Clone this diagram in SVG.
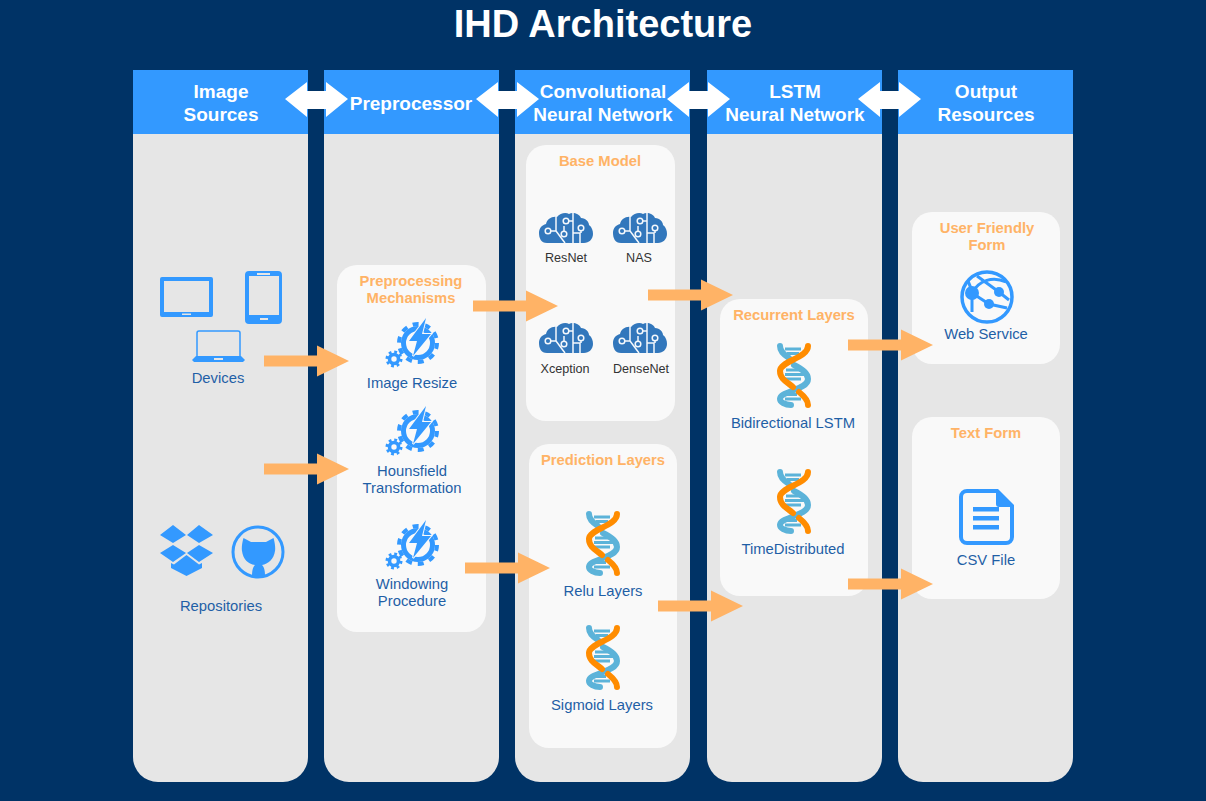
<svg xmlns="http://www.w3.org/2000/svg" xmlns:xlink="http://www.w3.org/1999/xlink" width="1206" height="801" viewBox="0 0 1206 801">
<style>
text{font-family:"Liberation Sans",Arial,sans-serif;text-anchor:middle}
.title{font-size:38px;font-weight:700;fill:#fff}
.hd{font-size:19px;font-weight:700;fill:#fff}
.ct{font-size:14.800px;font-weight:700;fill:#ffb366}
.lb{font-size:14.800px;fill:#1f5fa6}
.sm{font-size:12.600px;fill:#333}
.body{fill:#e6e6e6}
.head{fill:#3399ff}
.card{fill:#f9f9f9}
.ic{fill:#3399ff}
.or{fill:none;stroke:#ff8c00;stroke-width:6;stroke-linecap:round}
.bl{fill:none;stroke:#5cb3d9;stroke-width:6;stroke-linecap:round}
.rg{stroke:#5cb3d9;stroke-width:3}
.cir{fill:none;stroke:#f4f8fc;stroke-width:1.500}
</style>
<defs>
<symbol id="gear" overflow="visible">
<circle cx="0" cy="0" r="14.500" fill="none" stroke="#3399ff" stroke-width="5"/>
<circle cx="0" cy="0" r="19" fill="none" stroke="#3399ff" stroke-width="4" stroke-dasharray="6 5.940"/>
<path d="M8-25-9-2H-1L-5 13 13-9H4Z" fill="#3399ff" stroke="#f9f9f9" stroke-width="2" paint-order="stroke"/>
<g transform="translate(-24 16)">
<circle r="4.500" fill="none" stroke="#3399ff" stroke-width="3.600"/>
<circle r="7" fill="none" stroke="#3399ff" stroke-width="3" stroke-dasharray="2.750 2.750"/>
</g>
</symbol>
<symbol id="brain" overflow="visible">
<path d="M8 31C2 31 0 26 0 21 0 16 3 13 7 12 8 7 13 4 18 5 21 1 27 0 30 2 33 0 40 1 42 6 47 6 50 10 50 13 53 15 54 19 54 22 54 27 50 31 45 31Z" fill="#3277bc"/>
<g class="cir">
<path d="M17 3V19L26 31M12 19H17M25 14V19M29 9H34M34 1V31M34 21H41V31M42 19V21"/>
<circle cx="9" cy="19" r="2.800"/><circle cx="25" cy="22" r="2.800"/><circle cx="27" cy="9" r="2.800"/><circle cx="42" cy="16" r="2.800"/>
</g>
</symbol>
<symbol id="dna" overflow="visible">
<path class="rg" d="M8 6H24M10 10.500H22M9 27H28M8 31.500H27M6 36H24M8 56H24M10 51.500H20"/>
<path class="bl" d="M3 3C3 8 6 11 12 15M17 22C25 26 31 30 31 36 31 47 3 48 3 56 3 59 8 62 14 62"/>
<path class="or" d="M31 3C31 15 3 18 3 28 3 36 10 39 16 44M22 49C27 53 31 57 31 62"/>
</symbol>
<symbol id="bar" overflow="visible"><path d="M0-5.500H53V-15.500L85 0 53 15.500V5.500H0Z" fill="#ffb366"/></symbol>
<symbol id="dbl" overflow="visible"><path d="M0 0 22-17V-8H41V-17L63 0 41 18V10H22V18Z" fill="#fff"/></symbol>
</defs>
<rect width="1206" height="801" fill="#003366"/>
<text class="title" x="603" y="37">IHD Architecture</text>

<g id="lane-image-sources">
<path class="body" d="M133 70H308V757a25 25 0 0 1-25 25H158a25 25 0 0 1-25-25Z"/>
<rect class="head" x="133" y="70" width="175" height="64"/>
<text class="hd" x="221" y="98">Image</text><text class="hd" x="221" y="121">Sources</text>
</g>
<g id="lane-preprocessor">
<path class="body" d="M324 70H499V757a25 25 0 0 1-25 25H349a25 25 0 0 1-25-25Z"/>
<rect class="head" x="324" y="70" width="175" height="64"/>
<text class="hd" x="411" y="110">Preprocessor</text>
</g>
<g id="lane-cnn">
<path class="body" d="M515 70H690V757a25 25 0 0 1-25 25H540a25 25 0 0 1-25-25Z"/>
<rect class="head" x="515" y="70" width="175" height="64"/>
<text class="hd" x="603" y="98">Convolutional</text><text class="hd" x="603" y="121">Neural Network</text>
</g>
<g id="lane-lstm">
<path class="body" d="M707 70H882V757a25 25 0 0 1-25 25H732a25 25 0 0 1-25-25Z"/>
<rect class="head" x="707" y="70" width="175" height="64"/>
<text class="hd" x="795" y="98">LSTM</text><text class="hd" x="795" y="121">Neural Network</text>
</g>
<g id="lane-output">
<path class="body" d="M898 70H1073V757a25 25 0 0 1-25 25H923a25 25 0 0 1-25-25Z"/>
<rect class="head" x="898" y="70" width="175" height="64"/>
<text class="hd" x="986" y="98">Output</text><text class="hd" x="986" y="121">Resources</text>
</g>

<g id="node-devices">
<path class="ic" fill-rule="evenodd" d="M162 277H211a2 2 0 0 1 2 2V315a2 2 0 0 1-2 2H162a2 2 0 0 1-2-2V279a2 2 0 0 1 2-2ZM164 281V312H209V281ZM182 313.500V315H191V313.500Z"/>
<path class="ic" fill-rule="evenodd" d="M249 271H278a4 4 0 0 1 4 4V320a4 4 0 0 1-4 4H249a4 4 0 0 1-4-4V275a4 4 0 0 1 4-4ZM249 276V315H279V276ZM257 273V275H270V273ZM260 318V320H268V318Z"/>
<path fill="none" stroke="#3399ff" stroke-width="1.500" d="M197 357V333a2 2 0 0 1 2-2H238a2 2 0 0 1 2 2V357"/>
<path class="ic" fill-rule="evenodd" d="M196 356H241L245 360 243 362H194L192 360ZM214 358V360H223V358Z"/>
<text class="lb" x="218" y="383">Devices</text>
</g>
<g id="node-repositories">
<path class="ic" d="M160 535 173 525 186 535 173 543ZM187 535 199 525 213 535 199 543ZM160 553 173 545 186 553 173 562ZM187 553 199 545 213 553 199 562ZM171 563 174 564.500 186.500 555 199 564.500 202 563V568L186.500 576 171 568Z"/>
<circle cx="258" cy="552" r="25" fill="none" stroke="#3399ff" stroke-width="3"/>
<path class="ic" d="M243.500 538 251 542H266L273.500 538C275 543 275.500 548 275 551 274 559 268 564 262 565 264 567 265 570 265 576H252C252 570 253 567 255 565 248 564 243 559 242 551 241.500 548 242 543 243.500 538Z"/>
<text class="lb" x="221" y="611">Repositories</text>
</g>

<g id="node-preprocessing">
<rect class="card" x="337" y="265" width="149" height="367" rx="20"/>
<text class="ct" x="411" y="286">Preprocessing</text><text class="ct" x="411" y="303">Mechanisms</text>
<use xlink:href="#gear" x="418" y="343"/>
<text class="lb" x="412" y="388">Image Resize</text>
<use xlink:href="#gear" x="418" y="431"/>
<text class="lb" x="412" y="476">Hounsfield</text><text class="lb" x="412" y="493">Transformation</text>
<use xlink:href="#gear" x="418" y="545"/>
<text class="lb" x="412" y="589">Windowing</text><text class="lb" x="412" y="606">Procedure</text>
</g>

<g id="node-base-model">
<rect class="card" x="526" y="145" width="149" height="276" rx="20"/>
<text class="ct" x="600" y="166">Base Model</text>
<use xlink:href="#brain" x="539" y="212"/><text class="sm" x="566" y="262">ResNet</text>
<use xlink:href="#brain" x="613" y="212"/><text class="sm" x="639" y="262">NAS</text>
<use xlink:href="#brain" x="539" y="322"/><text class="sm" x="565" y="373">Xception</text>
<use xlink:href="#brain" x="613" y="322"/><text class="sm" x="641" y="373">DenseNet</text>
</g>
<g id="node-prediction">
<rect class="card" x="529" y="444" width="148" height="304" rx="20"/>
<text class="ct" x="603" y="465">Prediction Layers</text>
<use xlink:href="#dna" x="586" y="511"/><text class="lb" x="603" y="596">Relu Layers</text>
<use xlink:href="#dna" x="586" y="625"/><text class="lb" x="602" y="710">Sigmoid Layers</text>
</g>
<g id="node-recurrent">
<rect class="card" x="720" y="299" width="148" height="297" rx="20"/>
<text class="ct" x="794" y="320">Recurrent Layers</text>
<use xlink:href="#dna" x="777" y="343"/><text class="lb" x="793" y="428">Bidirectional LSTM</text>
<use xlink:href="#dna" x="777" y="469"/><text class="lb" x="793" y="554">TimeDistributed</text>
</g>
<g id="node-user-form">
<rect class="card" x="912" y="212" width="148" height="152" rx="20"/>
<text class="ct" x="987" y="233">User Friendly</text><text class="ct" x="987" y="250">Form</text>
<circle cx="987" cy="297" r="25" fill="none" stroke="#3399ff" stroke-width="3.500"/>
<g fill="none" stroke="#3399ff" stroke-width="3">
<path d="M972 293C979 280 993 276 1006 282M977 276 999 292 1009 300M972 293 989 304 1007 308M972 293C971 288 970 285 968 281M972 293V312"/>
</g>
<circle class="ic" cx="972" cy="293" r="7"/><circle class="ic" cx="999" cy="292" r="5"/><circle class="ic" cx="989" cy="304" r="5"/>
<text class="lb" x="986" y="339">Web Service</text>
</g>
<g id="node-text-form">
<rect class="card" x="912" y="417" width="148" height="182" rx="20"/>
<text class="ct" x="986" y="438">Text Form</text>
<path class="ic" fill-rule="evenodd" d="M967 489H998L1014 505V537a8 8 0 0 1-8 8H967a8 8 0 0 1-8-8V497a8 8 0 0 1 8-8ZM967 493a4 4 0 0 0-4 4V537a4 4 0 0 0 4 4H1006a4 4 0 0 0 4-4V507L999 507a3 3 0 0 1-3-3V493Z"/>
<path class="ic" d="M973 507H999V511.500H973ZM973 516H999V520.500H973ZM973 525H999V529.500H973Z"/>
<text class="lb" x="986" y="565">CSV File</text>
</g>

<g id="connectors">
<use xlink:href="#dbl" x="285" y="99"/>
<use xlink:href="#dbl" x="476" y="99"/>
<use xlink:href="#dbl" x="667" y="99"/>
<use xlink:href="#dbl" x="858" y="99"/>
<use xlink:href="#bar" x="264" y="361"/>
<use xlink:href="#bar" x="264" y="469"/>
<use xlink:href="#bar" x="473" y="306"/>
<use xlink:href="#bar" x="465" y="568"/>
<use xlink:href="#bar" x="648" y="295"/>
<use xlink:href="#bar" x="658" y="606"/>
<use xlink:href="#bar" x="848" y="345"/>
<use xlink:href="#bar" x="848" y="584"/>
</g>
</svg>
